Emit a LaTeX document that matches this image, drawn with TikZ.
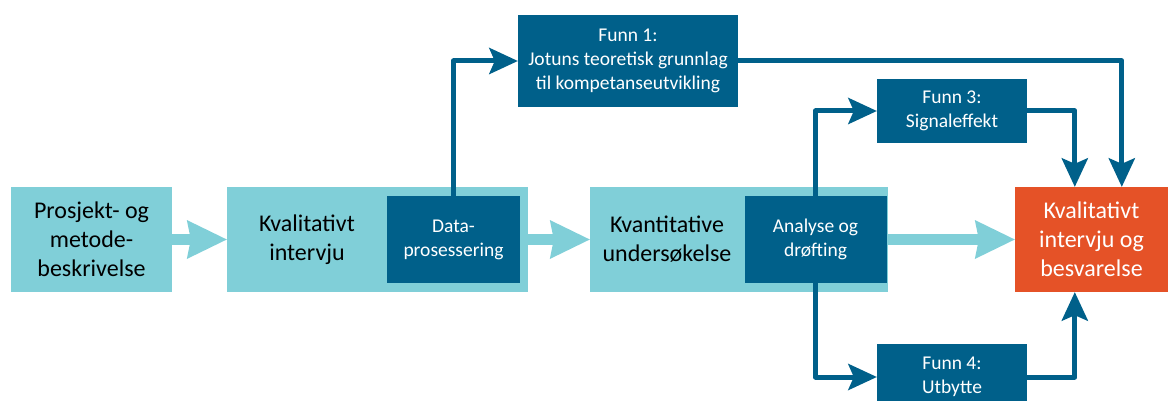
\documentclass[tikz,border=0pt]{standalone}
\usepackage{fontspec}
\setmainfont{Carlito}
\usetikzlibrary{arrows.meta}
\definecolor{lightc}{RGB}{128,207,216}
\definecolor{darkc}{RGB}{0,96,138}
\definecolor{orangec}{RGB}{229,82,39}
\begin{document}
\begin{tikzpicture}[x=1pt,y=-1pt,
  lightbox/.style={fill=lightc, draw=none, inner sep=0pt},
  darkbox/.style={fill=darkc, draw=none, inner sep=0pt, text=white, align=center,
    font=\fontsize{19.5}{24}\selectfont},
  orangebox/.style={fill=orangec, draw=none, inner sep=0pt, text=white, align=center,
    font=\fontsize{24}{29}\selectfont},
  bigtext/.style={align=center, text=black, font=\fontsize{24}{29}\selectfont, inner sep=0pt},
  fatarrow/.style={draw=lightc, line width=11pt,
    -{Stealth[length=40pt,width=39pt,inset=4pt,line width=0pt]}},
  darrow/.style={draw=darkc, line width=5pt, line join=round,
    -{Stealth[length=29pt,width=27pt,inset=6pt,line width=0pt]}}
]
\useasboundingbox (0,0) rectangle (1168,401);

% main light boxes
\node[lightbox, minimum width=161pt, minimum height=105pt] (A) at (91.5,239.5) {};
\node[bigtext] (Atext) at (A.center) {Prosjekt- og\\metode-\\beskrivelse};
\node[lightbox, minimum width=301pt, minimum height=105pt] (B) at (377.5,239.5) {};
\node[bigtext] (Btext) at (307,239.5) {Kvalitativt\\intervju};
\node[darkbox, minimum width=133pt, minimum height=87pt] (Data) at (453.5,239.5) {Data-\\prosessering};
\node[lightbox, minimum width=298pt, minimum height=105pt] (C) at (739,239.5) {};
\node[bigtext] (Ctext) at (667,239.5) {Kvantitative\\undersøkelse};
\node[darkbox, minimum width=142pt, minimum height=87pt] (An) at (815.5,239.5) {Analyse og\\drøfting};
\node[orangebox, minimum width=153pt, minimum height=105pt] (D) at (1091.5,239.5) {Kvalitativt\\intervju og\\besvarelse};

% findings
\node[darkbox, minimum width=220pt, minimum height=92pt] (F1) at (628,61) {Funn 1:\\Jotuns teoretisk grunnlag\\til kompetanseutvikling};
\node[darkbox, minimum width=150pt, minimum height=64pt] (F3) at (952,111) {Funn 3:\\Signaleffekt};
\node[darkbox, minimum width=150pt, minimum height=66pt] (F4) at (952,377) {Funn 4:\\Utbytte};

\coordinate (Dt1) at ([xshift=107pt]D.north west);
\coordinate (Dt3) at ([xshift=60pt]D.north west);
\coordinate (Db4) at ([xshift=60pt]D.south west);

% fat arrows
\draw[fatarrow] (A.east) -- (B.west);
\draw[fatarrow] (B.east) -- (C.west);
\draw[fatarrow] (C.east) -- (D.west);

% dark arrows
\draw[darrow] (Data.north) |- (F1.west);
\draw[darrow] (F1.east) -| (Dt1);
\draw[darrow] (An.north) |- (F3.west);
\draw[darrow] (F3.east) -| (Dt3);
\draw[darrow] (An.south) |- (F4.west);
\draw[darrow] (F4.east) -| (Db4);
\end{tikzpicture}
\end{document}
